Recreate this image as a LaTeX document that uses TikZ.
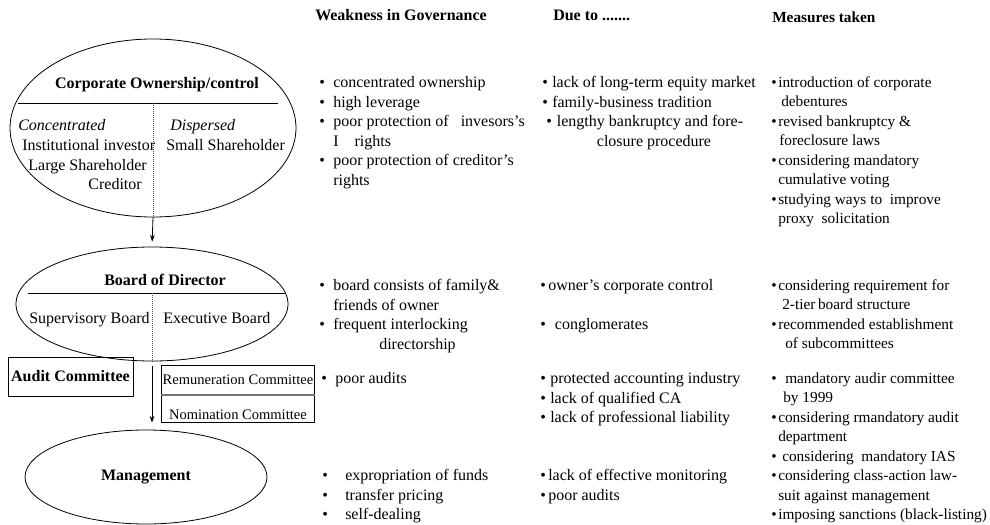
\documentclass[tikz,border=0pt]{standalone}
\usepackage{fontspec}
\setmainfont{Liberation Serif}
\usetikzlibrary{positioning, arrows.meta, shapes.geometric}
\newcommand{\bl}[1][10.5pt]{\makebox[#1][l]{\textbullet}}

\begin{document}
\begin{tikzpicture}[
  x=0.75pt, y=-0.75pt,
  cell/.style={anchor=north west, yshift=10.22pt, align=left, inner sep=0pt,
               font=\fontsize{12pt}{14.6pt}\selectfont, execute at begin node=\strut},
  mcell/.style={cell, font=\fontsize{11.5pt}{14.6pt}\selectfont},
  head/.style={anchor=base west, inner sep=0pt,
               font=\fontsize{12pt}{14.6pt}\selectfont\bfseries},
  plain/.style={anchor=base west, inner sep=0pt,
               font=\fontsize{12pt}{14.6pt}\selectfont},
  oval/.style={ellipse, draw, line width=0.6pt, inner sep=0pt},
  cbox/.style={rectangle, draw, line width=0.6pt, inner sep=0pt},
  divider/.style={densely dotted, line width=0.5pt, black!70},
  arrow/.style={-{Stealth[length=5pt, width=3.5pt]}, line width=0.6pt}
]
\useasboundingbox (0,0) rectangle (990,525);

% column heads
\node[head] (hweak) at (315,20) {Weakness in Governance};
\node[head] (hdue)  at (553,20) {Due to .......};
\node[head, font=\fontsize{11.5pt}{14.6pt}\selectfont\bfseries] (hmeas) at (772,22) {Measures taken};

% ownership
\node[oval, minimum width=214.5pt, minimum height=133.5pt] (own) at (153,128) {};
\node[head, anchor=base] (ownttl) at (157,88) {Corporate Ownership/control};
\draw[line width=0.6pt] (18,103) -- (278,103);
\coordinate (owndiv) at (153,103);
\draw[divider] (owndiv) -- (own.south);
\node[plain, font=\fontsize{12pt}{14.6pt}\selectfont\itshape] (conc) at (18,130) {Concentrated};
\node[plain, font=\fontsize{12pt}{14.6pt}\selectfont\itshape] (disp) at (170,130) {Dispersed};
\node[plain] (inst) at (22,150) {Institutional investor};
\node[plain] (small) at (166,150) {Small Shareholder};
\node[plain, anchor=base east] (large) at (147,170) {Large Shareholder};
\node[plain, anchor=base east] (cred) at (142,189) {Creditor};

% board
\node[oval, minimum width=204pt, minimum height=85.5pt] (board) at (152,304) {};
\node[head, anchor=base] (boardttl) at (165,285) {Board of Director};
\draw[line width=0.6pt] (28,293) -- (286,293);
\coordinate (boarddiv) at (152,293);
\draw[divider] (boarddiv) -- (board.south);
\node[plain] (sup) at (29,323) {Supervisory Board};
\node[plain] (exe) at (163,323) {Executive Board};
\draw[arrow, shorten >=3.75pt] (own.south) -- (board.north);

% committees
\node[cbox, minimum width=93.75pt, minimum height=29.25pt,
      font=\fontsize{12pt}{14.6pt}\selectfont\bfseries] (audit) at (70.5,376.5) {Audit Committee};
\node[cbox, anchor=north west, minimum width=114.75pt, minimum height=21.75pt,
      font=\fontsize{10.9pt}{13pt}\selectfont] (remu) at (161,365) {Remuneration Committee};
\node[cbox, anchor=north west, minimum width=114.75pt, text height=18.75pt, text depth=2.25pt,
      font=\fontsize{10.9pt}{13pt}\selectfont] (nomi) at (161,394) {Nomination Committee};
\draw[line width=1.2pt, black!55] (remu.south west) -- (remu.south east);

% management
\node[oval, minimum width=181.5pt, minimum height=70.5pt,
      font=\fontsize{12pt}{14.6pt}\selectfont\bfseries] (mgmt) at (146,477) {Management};
\draw[arrow, shorten <=3.75pt, shorten >=5.25pt] (board.south) -- (board.south |- mgmt.north);

% weakness in governance
\node[cell] (w1) at (319,90) {\bl concentrated ownership\\
  \bl high leverage\\
  \bl poor protection of \ \ invesors's\\
  \hspace*{10.5pt}I\hspace{12pt}rights\\
  \bl poor protection of creditor's\\
  \hspace*{10.5pt}rights};
\node[cell] (w2) at (319,293) {\bl board consists of family\&\\
  \hspace*{10.5pt}friends of owner\\
  \bl frequent interlocking\\
  \hspace*{45pt}directorship};
\node[cell] (w3) at (321,383) {\bl poor audits};
\node[cell] (w4) at (322,483) {\bl[17.25pt]expropriation of funds\\
  \bl[17.25pt]transfer pricing\\
  \bl[17.25pt]self-dealing};

% due to
\node[cell] (d1) at (542,90) {\bl[7.5pt]lack of long-term equity market\\
  \bl[7.5pt]family-business tradition\\
  \hspace*{3pt}\bl[8pt]lengthy bankruptcy and fore-\\
  \hspace*{41pt}closure procedure};
\node[cell] (d2) at (540,293) {\bl[6pt]owner's corporate control\\[14.6pt]
  \bl[11pt]conglomerates};
\node[cell] (d3) at (540,386) {\bl[7.5pt]protected accounting industry\\
  \bl[7.5pt]lack of qualified CA\\
  \bl[7.5pt]lack of professional liability};
\node[cell] (d4) at (540,483) {\bl[6pt]lack of effective monitoring\\
  \bl[6pt]poor audits};

% measures taken
\node[mcell] (m1) at (771,90) {\bl[5.25pt]introduction of corporate\\
  \hspace*{7.5pt}debentures\\
  \bl[5.25pt]revised bankruptcy \&\\
  \hspace*{6pt}foreclosure laws\\
  \bl[5.25pt]considering mandatory\\
  \hspace*{5.25pt}cumulative voting\\
  \bl[5.25pt]studying ways to \ improve\\
  \hspace*{5.25pt}proxy \ solicitation};
\node[mcell] (m2) at (771,293) {\bl[5.25pt]considering requirement for\\
  \hspace*{8.25pt}2-tier\,board structure\\
  \bl[5.25pt]recommended establishment\\
  \hspace*{10.5pt}of subcommittees};
\node[mcell] (m3) at (771,386) {\bl[10.5pt]mandatory audir committee\\
  \hspace*{9pt}by 1999\\
  \bl[5.25pt]considering rmandatory audit\\
  \hspace*{5.25pt}department\\
  \bl[8.25pt]considering \ mandatory IAS\\
  \bl[5.25pt]considering class-action law-\\
  \hspace*{5.25pt}suit against management\\
  \bl[5.25pt]imposing sanctions (black-listing)};
\end{tikzpicture}
\end{document}
